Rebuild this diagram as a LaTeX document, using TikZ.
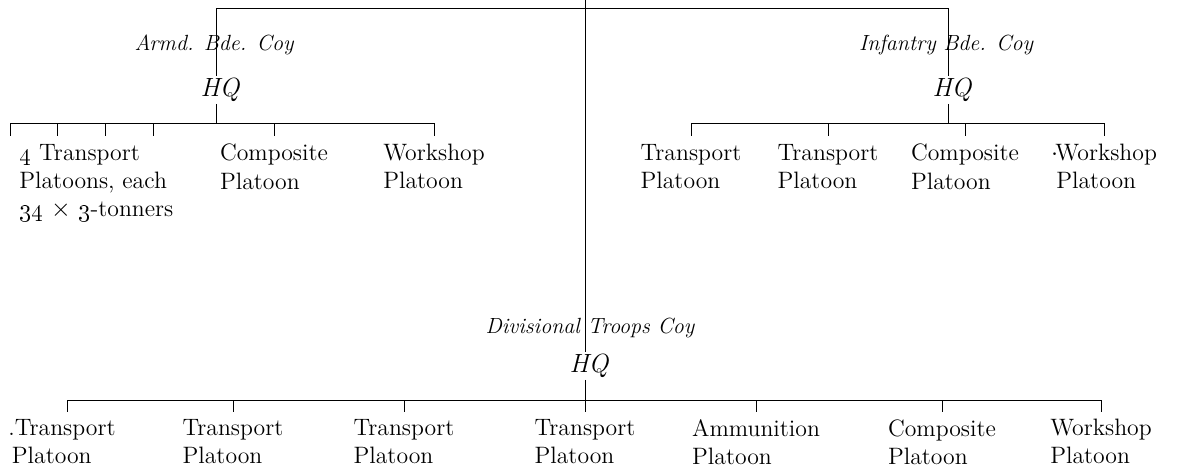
\documentclass[tikz,border=0pt]{standalone}
\begin{document}
\begin{tikzpicture}[x=0.02cm,y=-0.02cm,
  coy/.style={font=\fontsize{12.5}{15}\selectfont\itshape,inner sep=1pt},
  hq/.style={coy,font=\fontsize{15}{18}\selectfont\itshape},
  plt/.style={font=\fontsize{13.5}{16}\selectfont,align=left,anchor=north,
    inner xsep=0pt,inner ysep=4.5pt}]
\useasboundingbox (0,0) rectangle (1177,468);

\coordinate (top) at (585,0);
\coordinate (L) at (216,8);
\coordinate (R) at (948,8);
\coordinate (LB) at (216,123);
\coordinate (RB) at (948,123);
\coordinate (DB) at (585,400);

\node[coy] (armd) at (214,45) {Armd. Bde. Coy};
\node[hq] (armdhq) at (220,90) {HQ};
\node[coy] (inf) at (946,45) {Infantry Bde. Coy};
\node[hq] (infhq) at (952,90) {HQ};
\node[coy] (div) at (590,328) {Divisional Troops Coy};
\node[hq] (divhq) at (589,366) {HQ};

\draw (L) -- (R);
\draw (top) -- (divhq.north -| top);
\draw (divhq.south -| top) -- (DB);
\draw (L) -- (armdhq.north -| L);
\draw (armdhq.south -| L) -- (LB);
\draw (R) -- (infhq.north -| R);
\draw (infhq.south -| R) -- (RB);

% Armd. Bde. Coy
\foreach \x [count=\i] in {10,57,105,153}
  \coordinate (at\i) at (\x,136);
\node[plt,anchor=north west] (atrn) at (19,136)
  {\oldstylenums{4} Transport\\Platoons, each\\\oldstylenums{34} $\times$ \oldstylenums{3}-tonners};
\node[plt] (acomp) at (274,136) {Composite\\Platoon};
\node[plt] (awks) at (434,136) {Workshop\\Platoon};
\draw (at1 |- LB) -- (awks.north |- LB);
\foreach \i in {1,...,4}
  \draw (at\i |- LB) -- (at\i);
\draw (acomp.north |- LB) -- (acomp.north);
\draw (awks.north |- LB) -- (awks.north);

% Infantry Bde. Coy
\node[plt] (itr1) at (691,136) {Transport\\Platoon};
\node[plt] (itr2) at (828,136) {Transport\\Platoon};
\node[plt] (icomp) at (965,136) {Composite\\Platoon};
\node[plt] (iwks) at (1104,136) {$\cdot$\kern-1.5pt Workshop\\\kern3pt Platoon};
\draw (itr1.north |- RB) -- (iwks.north |- RB);
\foreach \n in {itr1,itr2,icomp,iwks}
  \draw (\n.north |- RB) -- (\n.north);

% Divisional Troops Coy
\node[plt,inner ysep=4pt] (dtr1) at (62,412) {.Transport\\\kern2pt Platoon};
\node[plt,inner ysep=4pt] (dtr2) at (233,412) {Transport\\Platoon};
\node[plt,inner ysep=4pt] (dtr3) at (404,412) {Transport\\Platoon};
\node[plt,inner ysep=4pt] (dtr4) at (585,412) {Transport\\Platoon};
\node[plt,inner ysep=4pt] (damm) at (756,412) {Ammunition\\Platoon};
\node[plt,inner ysep=4pt] (dcomp) at (942,412) {Composite\\Platoon};
\node[plt,inner ysep=4pt] (dwks) at (1101,412) {Workshop\\Platoon};
\draw (67,400) coordinate (d0) -- (dwks.north |- DB);
\draw (d0) -- (dtr1.north -| d0);
\foreach \n in {dtr2,dtr3,dtr4,damm,dcomp,dwks}
  \draw (\n.north |- DB) -- (\n.north);
\end{tikzpicture}
\end{document}
